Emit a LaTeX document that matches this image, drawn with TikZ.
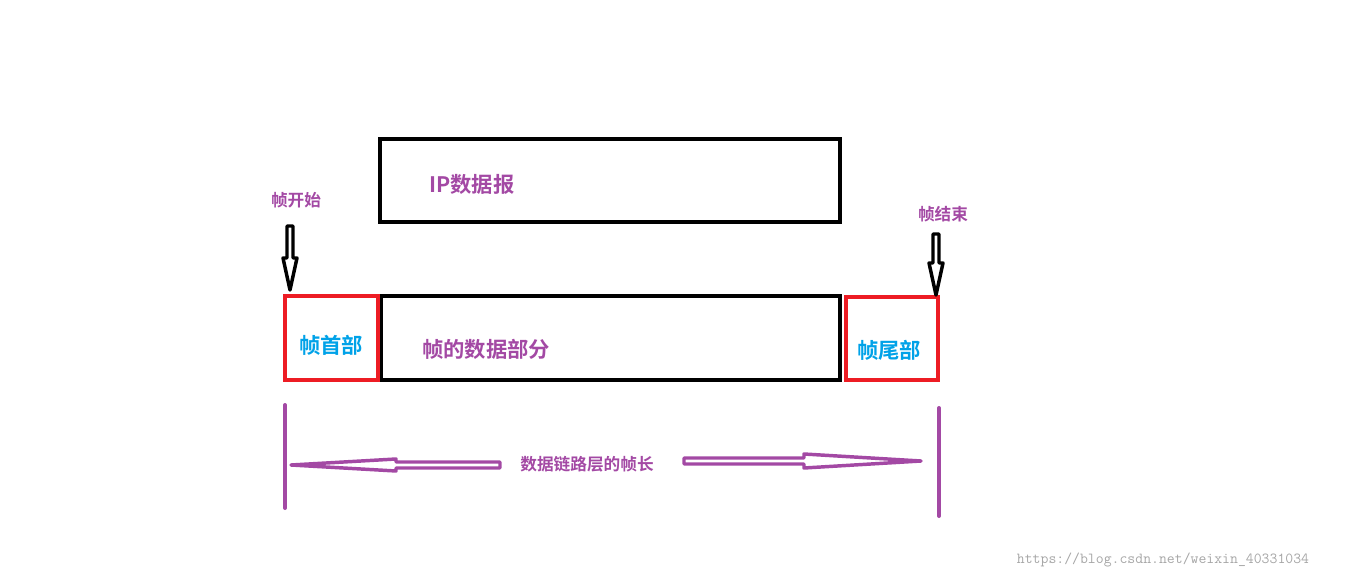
\documentclass[tikz,border=0pt]{standalone}
\usepackage{fontspec}
\newfontfamily\cjk[BoldFont={Noto Sans CJK SC Bold}]{Noto Sans CJK SC}
\definecolor{pur}{HTML}{A349A4}
\definecolor{rd}{HTML}{ED1C24}
\definecolor{bl}{HTML}{00A2E8}
\tikzset{
 blackbox/.style={draw=black,line width=3pt},
 redbox/.style={draw=rd,line width=3pt},
 ptext/.style={text=pur,font=\cjk\bfseries},
 btext/.style={text=bl,font=\cjk\bfseries\fontsize{16}{18}\selectfont},
 hollow/.style={draw=pur,line width=2.6pt,line join=round},
 downarr/.style={draw=black,line width=2.6pt,line join=round},
 vline/.style={draw=pur,line width=3pt,line cap=round},
}
\begin{document}
\begin{tikzpicture}[x=0.75pt,y=-0.75pt]
\useasboundingbox (0,0) rectangle (1360,581);
\draw[blackbox] (380,139) rectangle (840,222);
\node[ptext,font=\cjk\bfseries\fontsize{16}{18}\selectfont] (ip) at (472,184) {IP数据报};
\draw[blackbox] (381,296) rectangle (840,380);
\node[ptext,font=\cjk\bfseries\fontsize{16}{18}\selectfont] (data) at (486,349) {帧的数据部分};
\draw[redbox] (285,296) rectangle (378,380);
\node[btext] (head) at (331,345) {帧首部};
\draw[redbox] (846,297) rectangle (938,380);
\node[btext] (tail) at (889,350) {帧尾部};
\node[ptext,font=\cjk\bfseries\fontsize{12.5}{14}\selectfont] (start) at (296,200) {帧开始};
\node[ptext,font=\cjk\bfseries\fontsize{12.5}{14}\selectfont] (end) at (943,214) {帧结束};
\draw[downarr] (287,226) -- (293,226) -- (293,258) -- (297,258) -- (290,290) -- (283,258) -- (287,258) -- cycle;
\draw[downarr] (933,234) -- (939,234) -- (939,263) -- (943,263) -- (936,295) -- (929,263) -- (933,263) -- cycle;
\draw[vline] (285,405) -- (285,508);
\draw[vline] (939,408) -- (939,516);
\node[ptext,font=\cjk\bfseries\fontsize{12.5}{14}\selectfont] (len) at (587,464) {数据链路层的帧长};
\draw[hollow] (500,462) -- (396,462) -- (396,459) -- (291,465) -- (396,471) -- (396,468) -- (500,468) -- cycle;
\draw[hollow] (684,458) -- (804,458) -- (804,454) -- (921,461) -- (804,468) -- (804,464) -- (684,464) -- cycle;
\node[text=gray!70,font=\ttfamily\fontsize{11.5}{13}\selectfont] (wm) at (1163,560) {https://blog.csdn.net/weixin\_40331034};
\end{tikzpicture}
\end{document}
